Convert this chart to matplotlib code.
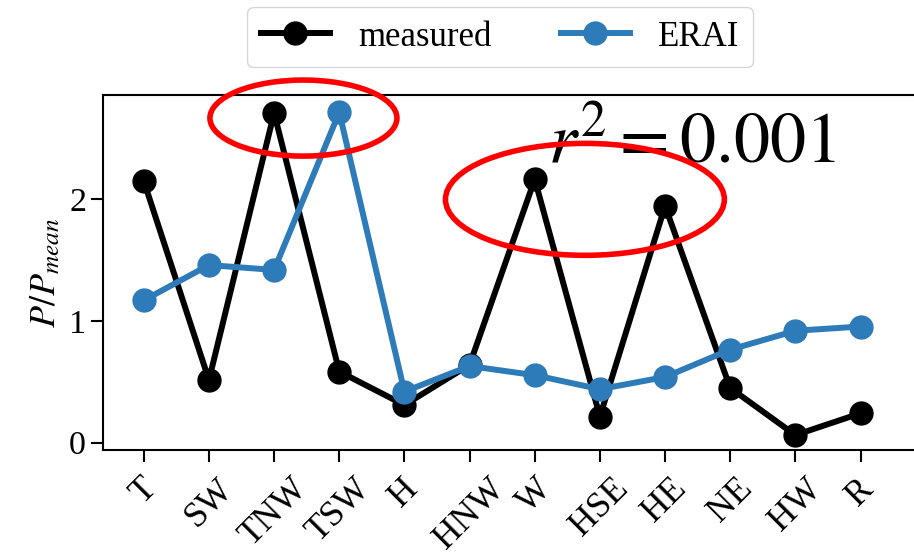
import matplotlib
matplotlib.use('Agg')
import matplotlib.pyplot as plt
from matplotlib.patches import Ellipse

plt.rcParams['font.family'] = ['Liberation Serif', 'DejaVu Serif']
plt.rcParams['mathtext.fontset'] = 'stix'

sites = ['T', 'SW', 'TNW', 'TSW', 'H', 'HNW', 'W', 'HSE', 'HE', 'NE', 'HW', 'R']
measured = [2.15, 0.515, 2.71, 0.585, 0.31, 0.64, 2.165, 0.215, 1.945, 0.45, 0.063, 0.242]
erai = [1.17, 1.46, 1.42, 2.715, 0.42, 0.63, 0.555, 0.44, 0.54, 0.765, 0.92, 0.955]
r2 = 0.001

fig = plt.figure(figsize=(9.14, 5.56), dpi=100)
ax = fig.add_axes([0.1124, 0.1906, 0.9004, 0.6384])

x = range(len(sites))
ax.plot(x, measured, color='black', lw=4.3, marker='o', ms=16.5, label='measured')
ax.plot(x, erai, color='#2e7bb9', lw=4.3, marker='o', ms=16.5, label='ERAI')

# highlight the peaks
ax.add_patch(Ellipse((2.45, 2.668), 2.87, 0.625, fill=False, edgecolor='red',
                     lw=4, clip_on=False, zorder=5))
ax.add_patch(Ellipse((6.77, 2.0), 4.28, 0.92, fill=False, edgecolor='red',
                     lw=4, clip_on=False, zorder=5))

ax.text(6.2, 2.31, r'$r^2 = %.3f$' % r2, fontsize=52, ha='left', va='baseline', zorder=4)

ax.set_xlim(-0.63, 12.0)
ax.set_ylim(-0.06, 2.857)
ax.set_xticks(list(x))
ax.set_xticklabels(sites, rotation=45)
ax.set_yticks([0, 1, 2])
ax.tick_params(labelsize=24.5, length=8.5, width=1.5)
ax.tick_params(axis='x', labelsize=25.5, pad=7.5)
ax.set_ylabel(r'$P/P_{mean}$', fontsize=26)
for s in ax.spines.values():
    s.set_linewidth(1.5)

fig.legend(loc='upper center', bbox_to_anchor=(0.547, 0.988), ncol=2, fontsize=25,
           borderaxespad=0)

fig.savefig('out.png', dpi=100)
